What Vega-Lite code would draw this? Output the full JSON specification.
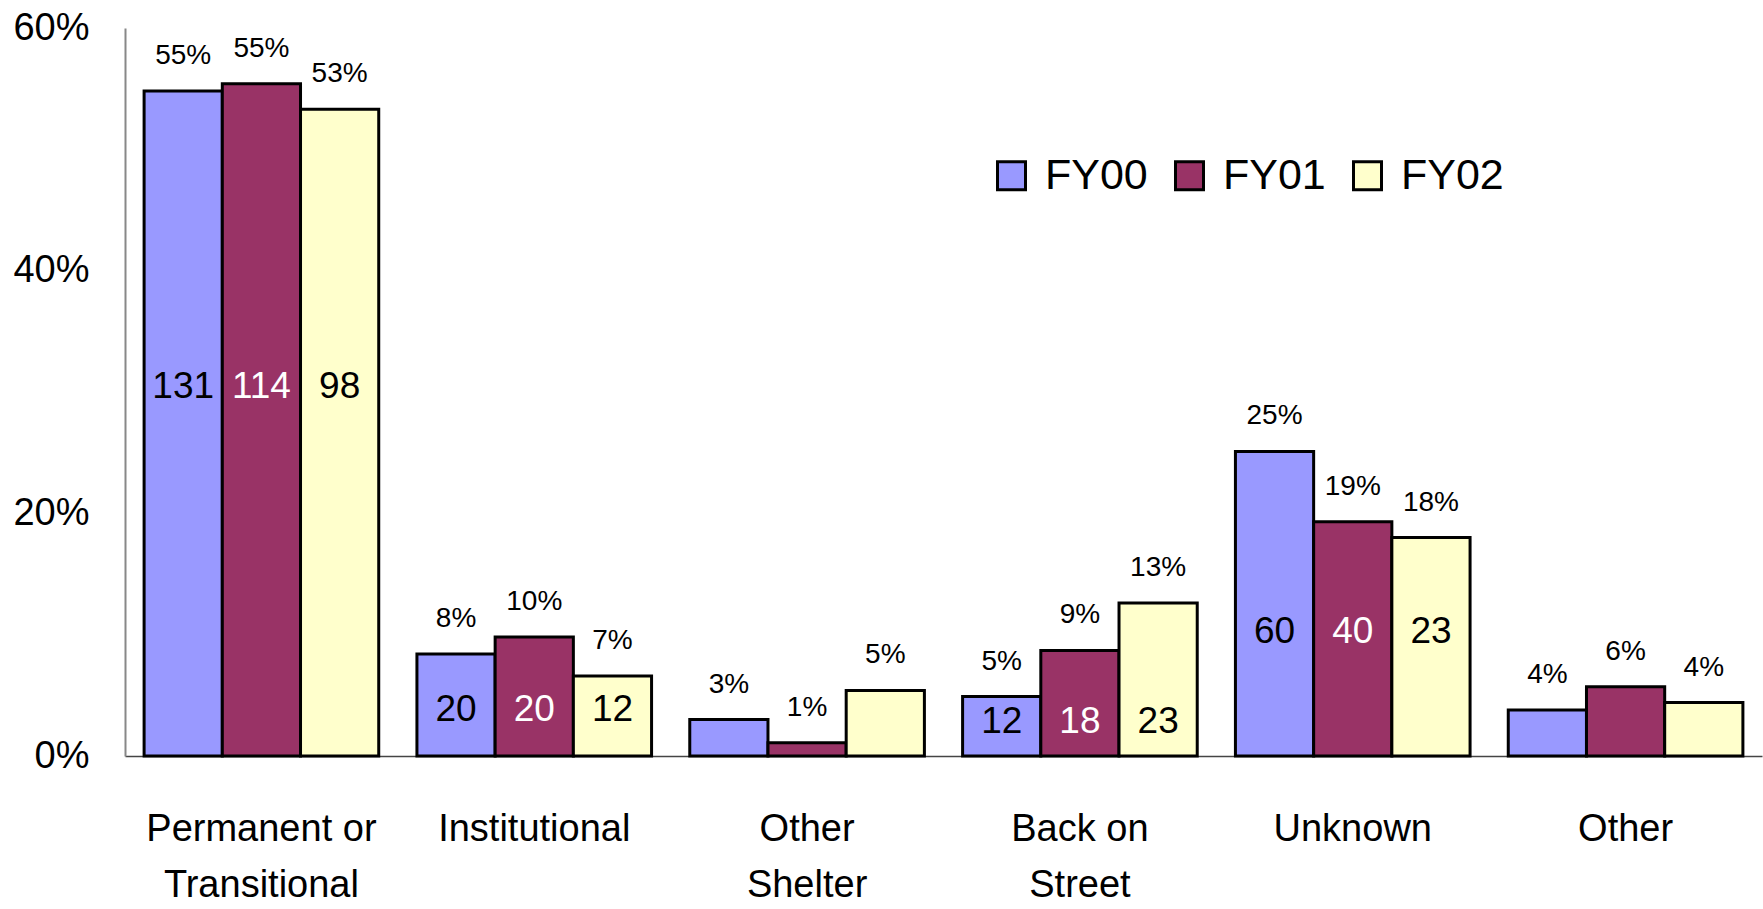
{
  "$schema": "https://vega.github.io/schema/vega-lite/v6.json",
  "autosize": "none",
  "width": 1637,
  "height": 728,
  "padding": {"left": 125, "top": 28, "right": 1, "bottom": 153},
  "background": "white",
  "config": {"view": {"stroke": null}},
  "data": {
    "values": [
      {"category": "Permanent or|Transitional", "year": "FY00", "pct": 0.548, "count": 131},
      {"category": "Permanent or|Transitional", "year": "FY01", "pct": 0.554, "count": 114},
      {"category": "Permanent or|Transitional", "year": "FY02", "pct": 0.533, "count": 98},
      {"category": "Institutional", "year": "FY00", "pct": 0.084, "count": 20},
      {"category": "Institutional", "year": "FY01", "pct": 0.098, "count": 20},
      {"category": "Institutional", "year": "FY02", "pct": 0.066, "count": 12},
      {"category": "Other|Shelter", "year": "FY00", "pct": 0.030, "count": null},
      {"category": "Other|Shelter", "year": "FY01", "pct": 0.011, "count": null},
      {"category": "Other|Shelter", "year": "FY02", "pct": 0.054, "count": null},
      {"category": "Back on|Street", "year": "FY00", "pct": 0.049, "count": 12},
      {"category": "Back on|Street", "year": "FY01", "pct": 0.087, "count": 18},
      {"category": "Back on|Street", "year": "FY02", "pct": 0.126, "count": 23},
      {"category": "Unknown", "year": "FY00", "pct": 0.251, "count": 60},
      {"category": "Unknown", "year": "FY01", "pct": 0.193, "count": 40},
      {"category": "Unknown", "year": "FY02", "pct": 0.180, "count": 23},
      {"category": "Other", "year": "FY00", "pct": 0.038, "count": null},
      {"category": "Other", "year": "FY01", "pct": 0.057, "count": null},
      {"category": "Other", "year": "FY02", "pct": 0.044, "count": null}
    ]
  },
  "encoding": {
    "x": {
      "field": "category", "type": "nominal", "sort": null,
      "scale": {"paddingInner": 0.14, "paddingOuter": 0.07},
      "axis": {
        "title": null, "labelAngle": 0, "ticks": false, "tickSize": 0,
        "domainColor": "#444444", "domainWidth": 1.5,
        "labelFont": "Liberation Sans", "labelFontSize": 38, "labelColor": "black",
        "labelLineHeight": 56, "labelPadding": 54, "labelLimit": 0,
        "labelExpr": "split(datum.label, '|')"
      }
    },
    "xOffset": {"field": "year", "type": "nominal", "scale": {"paddingInner": 0, "paddingOuter": 0}}
  },
  "layer": [
    {
      "mark": {"type": "bar", "stroke": "black", "strokeWidth": 3},
      "encoding": {
        "y": {
          "field": "pct", "type": "quantitative",
          "scale": {"domain": [0, 0.6], "nice": false},
          "axis": {
            "title": null, "values": [0, 0.2, 0.4, 0.6], "format": ".0%",
            "grid": false, "ticks": false, "tickSize": 0,
            "domainColor": "#888888", "domainWidth": 2,
            "labelFont": "Liberation Sans", "labelFontSize": 38, "labelColor": "black",
            "labelPadding": 36
          }
        },
        "color": {
          "field": "year", "type": "nominal",
          "scale": {"domain": ["FY00", "FY01", "FY02"], "range": ["#9999FF", "#993366", "#FFFFCC"]},
          "legend": {
            "title": null, "orient": "none", "direction": "horizontal",
            "legendX": 865, "legendY": 126, "padding": 0,
            "symbolType": "square", "symbolSize": 784, "symbolStrokeColor": "black", "symbolStrokeWidth": 3,
            "symbolOpacity": 1,
            "labelFont": "Liberation Sans", "labelFontSize": 43, "labelColor": "black",
            "labelOffset": 12, "columnPadding": 20
          }
        }
      }
    },
    {
      "mark": {"type": "text", "font": "Liberation Sans", "fontSize": 28, "baseline": "alphabetic", "dy": -27, "color": "black"},
      "encoding": {
        "y": {"field": "pct", "type": "quantitative"},
        "text": {"field": "pct", "type": "quantitative", "format": ".0%"}
      }
    },
    {
      "transform": [
        {"joinaggregate": [{"op": "min", "field": "pct", "as": "minPct"}], "groupby": ["category"]},
        {"filter": "datum.count != null"},
        {"calculate": "datum.minPct * 0.57", "as": "labelY"}
      ],
      "mark": {"type": "text", "font": "Liberation Sans", "fontSize": 37, "baseline": "middle"},
      "encoding": {
        "y": {"field": "labelY", "type": "quantitative"},
        "text": {"field": "count", "type": "quantitative"},
        "color": {"condition": {"test": "datum.year === 'FY01'", "value": "white"}, "value": "black"}
      }
    }
  ]
}
